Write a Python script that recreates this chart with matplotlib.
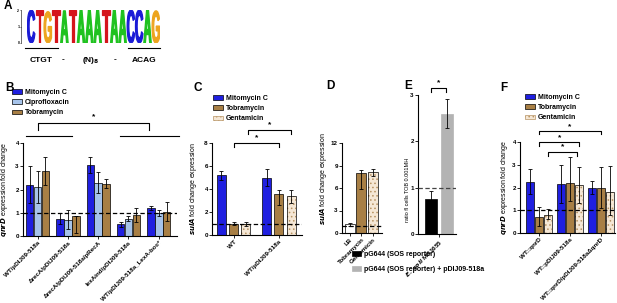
import matplotlib.pyplot as plt
import numpy as np
from matplotlib.textpath import TextPath
from matplotlib.patches import PathPatch, Patch
from matplotlib.font_manager import FontProperties
from matplotlib.transforms import Affine2D
from matplotlib.lines import Line2D

plt.rcParams['font.family'] = ['Liberation Sans', 'DejaVu Sans']
plt.rcParams['font.weight'] = 'bold'
plt.rcParams['hatch.linewidth'] = 0.6

# panel A - motif
motif = "CTGTATAAATAACCAG"
motif_bits = [2.0, 2.0, 1.9, 2.0, 1.95, 2.0, 2.0, 2.0, 2.0, 2.0, 2.0, 2.0, 2.0, 2.0, 2.0, 1.95]
base_colors = {"C": "#1b1bd6", "T": "#d5141c", "G": "#eda41e", "A": "#1fc21f"}

# panel B - qnrD
b_groups = ["WT/pDIJ09-518a", "ΔrecA/pDIJ09-518a", "ΔrecA/pDIJ09-518a/pRecA",
            "lexAind/pDIJ09-518a", "WT/pDIJ09-518a_LexA-box*"]
b_mitc = [2.2, 0.75, 3.05, 0.5, 1.2]
b_mitc_err = [0.8, 0.22, 0.35, 0.1, 0.1]
b_cipro = [2.1, 0.7, 2.3, 0.75, 1.0]
b_cipro_err = [0.7, 0.42, 0.45, 0.1, 0.12]
b_tobra = [2.8, 0.87, 2.25, 0.9, 1.05]
b_tobra_lo = [0.6, 0.72, 0.2, 0.3, 0.42]
b_tobra_hi = [0.6, 0.0, 0.2, 0.3, 0.42]

# panel C - sulA
c_groups = ["WT", "WT/pDIJ09-518a"]
c_mitc = [5.2, 5.0]
c_mitc_err = [0.4, 0.75]
c_tobra = [1.0, 3.6]
c_tobra_lo = [0.1, 1.0]
c_tobra_hi = [0.1, 0.33]
c_genta = [0.95, 3.42]
c_genta_lo = [0.15, 0.67]
c_genta_hi = [0.15, 0.48]

# panel D - sulA
d_cats = ["LB", "Tobramycin", "Gentamicin"]
d_vals = [1.2, 8.0, 8.1]
d_lo = [0.2, 2.1, 0.45]
d_hi = [0.2, 0.45, 0.5]

# panel E - SOS reporter
e_cat = "E. coli MG1655"
e_vals = [0.75, 2.6]
e_err = [0.17, 0.31]
e_labels = ["pG644 (SOS reporter)", "pG644 (SOS reporter) + pDIJ09-518a"]

# panel F - qnrD
f_groups = ["WT::qnrD", "WT::pDIJ09-518a", "WT::qnrD/pDIJ09-518aΔqnrD"]
f_mitc = [2.25, 2.15, 2.0]
f_mitc_err = [0.55, 0.85, 0.3]
f_tobra = [0.7, 2.2, 2.0]
f_tobra_lo = [0.4, 0.8, 0.9]
f_tobra_hi = [0.45, 1.15, 0.9]
f_genta = [0.8, 2.1, 1.8]
f_genta_lo = [0.2, 0.8, 1.0]
f_genta_hi = [0.25, 0.8, 1.15]

MITC = '#1f1fe0'
CIPRO = '#a6c3ea'
TOBRA = '#a87f45'
GENTA_FILL = '#f5e7d5'
GENTA_DOT = '#b89464'

W, H = 617, 303
fig = plt.figure(figsize=(W / 100, H / 100), dpi=100)


def ax_px(x0, y0, x1, y1):
    return fig.add_axes([x0 / W, 1 - y1 / H, (x1 - x0) / W, (y1 - y0) / H])


def ftext(x, y, s, **kw):
    fig.text(x / W, 1 - y / H, s, **kw)


def fline(x0, x1, y):
    fig.add_artist(Line2D([x0 / W, x1 / W], [1 - y / H, 1 - y / H], color='k', lw=0.8))


def style(ax, ylim, yticks, dash=True):
    ax.set_ylim(*ylim)
    ax.set_yticks(yticks)
    for s in ['top', 'right']:
        ax.spines[s].set_visible(False)
    ax.spines['left'].set_linewidth(0.8)
    ax.spines['bottom'].set_linewidth(0.8)
    ax.tick_params(labelsize=4.5, length=2, width=0.6, pad=1)
    if dash:
        ax.axhline(1, color='k', ls=(0, (3.5, 2)), lw=0.9, zorder=5)


def bars(ax, x, vals, lo, hi, w, color=None, hatch=False):
    if hatch:
        ax.bar(x, vals, w, color=GENTA_FILL, edgecolor=GENTA_DOT, hatch='....', lw=0)
        ax.bar(x, vals, w, fill=False, edgecolor='k', lw=0.5)
    else:
        ax.bar(x, vals, w, color=color, edgecolor='k', lw=0.5)
    ax.errorbar(x, vals, yerr=[lo, hi], fmt='none', ecolor='k',
                elinewidth=0.6, capsize=1.5, capthick=0.6, zorder=6)


def bracket(ax, x0, x1, y, drop, star_y):
    ax.plot([x0, x0, x1, x1], [y - drop, y, y, y - drop], color='k', lw=0.8, clip_on=False)
    ax.text((x0 + x1) / 2, star_y, '*', ha='center', va='center', fontsize=6)


def xlabels(ax, pos, labels):
    ax.set_xticks(pos)
    ax.set_xticklabels(labels, rotation=45, ha='right', rotation_mode='anchor', fontsize=4.5)


genta_handle = Patch(facecolor=GENTA_FILL, edgecolor=GENTA_DOT, hatch='....', lw=0.5)
leg_kw = dict(frameon=False, fontsize=5, handlelength=1.4, handleheight=0.6,
              handletextpad=0.5, labelspacing=0.45, borderpad=0, borderaxespad=0,
              bbox_transform=fig.transFigure, loc='upper left')

# ---- A
axA = ax_px(27, 10, 160, 43)
fp = FontProperties(family='Liberation Sans', weight='bold')
for i, (ch, h) in enumerate(zip(motif, motif_bits)):
    tp = TextPath((0, 0), ch, size=1, prop=fp)
    bb = tp.get_extents()
    tr = (Affine2D().translate(-bb.x0, -bb.y0)
          .scale(0.9 / bb.width, h / bb.height).translate(i + 0.05, 0))
    axA.add_patch(PathPatch(tr.transform_path(tp), facecolor=base_colors[ch],
                            edgecolor=base_colors[ch], lw=0.9))
axA.set_xlim(0, len(motif))
axA.set_ylim(0, 2)
axA.set_yticks([0, 1, 2])
axA.tick_params(labelsize=2.5, length=1, width=0.4, pad=0.5)
axA.set_xticks([])
for s in ['top', 'right', 'bottom']:
    axA.spines[s].set_visible(False)
axA.spines['left'].set_linewidth(0.4)
axA.spines['left'].set_position(('outward', 4))
fline(25, 58, 48)
fline(128, 160, 48)
for x, s in [(41, "CTGT"), (63, "-"), (91, "(N)$_8$"), (115, "-"), (144, "ACAG")]:
    ftext(x, 60, s, ha='center', va='center', fontsize=6)

# ---- B
axB = ax_px(23, 143, 177, 236)
style(axB, (0, 4), range(5))
xb = np.arange(len(b_groups))
bw = 0.25
bars(axB, xb - 0.26, b_mitc, b_mitc_err, b_mitc_err, bw, MITC)
bars(axB, xb, b_cipro, b_cipro_err, b_cipro_err, bw, CIPRO)
bars(axB, xb + 0.26, b_tobra, b_tobra_lo, b_tobra_hi, bw, TOBRA)
axB.set_xlim(-0.48, 4.6)
xlabels(axB, xb, b_groups)
axB.set_ylabel(r"$\it{qnrD}$ expression fold change", fontsize=5)
axB.yaxis.set_label_coords(-0.085, 0.5)
bracket(axB, 0, 3.68, 4.86, 0.3, 5.15)
axB.plot([-0.38, 1.12], [4.3, 4.3], color='k', lw=0.8, clip_on=False)
axB.plot([2.72, 4.65], [4.3, 4.3], color='k', lw=0.8, clip_on=False)
axB.legend([Patch(facecolor=MITC, edgecolor='k', lw=0.5),
            Patch(facecolor=CIPRO, edgecolor='k', lw=0.5),
            Patch(facecolor=TOBRA, edgecolor='k', lw=0.5)],
           ["Mitomycin C", "Ciprofloxacin", "Tobramycin"],
           bbox_to_anchor=(12 / W, 1 - 89 / H), **leg_kw)

# ---- C
axC = ax_px(212, 143, 302, 235)
style(axC, (0, 8), range(0, 9, 2))
xc = np.arange(len(c_groups))
cw = 0.2
bars(axC, xc - 0.27, c_mitc, c_mitc_err, c_mitc_err, cw, MITC)
bars(axC, xc, c_tobra, c_tobra_lo, c_tobra_hi, cw, TOBRA)
bars(axC, xc + 0.27, c_genta, c_genta_lo, c_genta_hi, cw, hatch=True)
axC.set_xlim(-0.48, 1.51)
xlabels(axC, xc, c_groups)
axC.set_ylabel(r"$\it{sulA}$ fold change expression", fontsize=5)
axC.yaxis.set_label_coords(-0.14, 0.5)
bracket(axC, 0, 1, 8.0, 0.35, 8.45)
bracket(axC, 0.32, 1.27, 9.1, 0.3, 9.6)
axC.legend([Patch(facecolor=MITC, edgecolor='k', lw=0.5),
            Patch(facecolor=TOBRA, edgecolor='k', lw=0.5), genta_handle],
           ["Mitomycin C", "Tobramycin", "Gentamicin"],
           bbox_to_anchor=(213 / W, 1 - 95 / H), **leg_kw)

# ---- D
axD = ax_px(342, 143, 382, 233)
style(axD, (0, 12), range(0, 13, 3))
xd = np.arange(len(d_cats))
dw = 0.87
axD.bar(xd[0], d_vals[0], dw, color='white', edgecolor='k', lw=0.5)
axD.bar(xd[1], d_vals[1], dw, color=TOBRA, edgecolor='k', lw=0.5)
axD.bar(xd[2], d_vals[2], dw, color=GENTA_FILL, edgecolor=GENTA_DOT, hatch='....', lw=0)
axD.bar(xd[2], d_vals[2], dw, fill=False, edgecolor='k', lw=0.5)
axD.errorbar(xd, d_vals, yerr=[d_lo, d_hi], fmt='none', ecolor='k',
             elinewidth=0.6, capsize=1.5, capthick=0.6, zorder=6)
axD.set_xlim(-0.7, 2.8)
xlabels(axD, xd, d_cats)
axD.set_ylabel(r"$\it{sulA}$ fold change expression", fontsize=5)
axD.yaxis.set_label_coords(-0.33, 0.6)

# ---- E
axE = ax_px(418, 95, 456, 234)
style(axE, (0, 3), range(4))
axE.lines[0].set_color('#444444')
ew = 0.35
axE.bar([-0.25], e_vals[0], ew, color='black', edgecolor='k', lw=0.5, label=e_labels[0])
axE.bar([0.25], e_vals[1], ew, color='#b3b3b3', edgecolor='#b3b3b3', lw=0.5, label=e_labels[1])
axE.errorbar([-0.25, 0.25], e_vals, yerr=e_err, fmt='none', ecolor='k',
             elinewidth=0.6, capsize=1.5, capthick=0.6, zorder=6)
axE.set_xlim(-0.64, 0.52)
xlabels(axE, [0], [r"$\it{E.\ coli}$ MG1655"])
axE.set_ylabel("ratio fl cells TOB 0.001MH", fontsize=4)
axE.yaxis.set_label_coords(-0.2, 0.32)
bracket(axE, -0.24, 0.21, 3.15, 0.08, 3.27)
axE.legend(bbox_to_anchor=(352 / W, 1 - 251 / H),
           **{**leg_kw, 'labelspacing': 1.1, 'handlelength': 1.3, 'handleheight': 0.8})

# ---- F
axF = ax_px(520, 142, 615, 233)
style(axF, (0, 4), range(5))
xf = np.arange(len(f_groups))
fw = 0.26
bars(axF, xf - 0.29, f_mitc, f_mitc_err, f_mitc_err, fw, MITC)
bars(axF, xf, f_tobra, f_tobra_lo, f_tobra_hi, fw, TOBRA)
bars(axF, xf + 0.29, f_genta, f_genta_lo, f_genta_hi, fw, hatch=True)
axF.set_xlim(-0.61, 2.45)
xlabels(axF, xf, f_groups)
axF.set_ylabel(r"$\it{qnrD}$ expression fold change", fontsize=5)
axF.yaxis.set_label_coords(-0.11, 0.5)
bracket(axF, 0, 2.0, 4.48, 0.13, 4.68)
bracket(axF, 0, 1.3, 4.0, 0.17, 4.2)
bracket(axF, 0.29, 1.23, 3.57, 0.17, 3.78)
axF.legend([Patch(facecolor=MITC, edgecolor='k', lw=0.5),
            Patch(facecolor=TOBRA, edgecolor='k', lw=0.5), genta_handle],
           ["Mitomycin C", "Tobramycin", "Gentamicin"],
           bbox_to_anchor=(525 / W, 1 - 94 / H), **leg_kw)

# panel letters
for x, y, s in [(4, 6, "A"), (5, 88, "B"), (193, 88, "C"), (326, 86, "D"),
                (404, 86, "E"), (500, 88, "F")]:
    ftext(x, y, s, fontsize=8.5, fontweight='bold', ha='left', va='center')

fig.savefig("out.png", dpi=100)
